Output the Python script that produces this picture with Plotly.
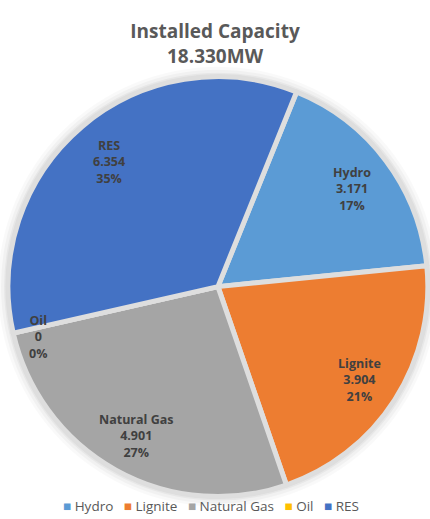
import math
import plotly.graph_objects as go

labels = ["Hydro", "Lignite", "Natural Gas", "Oil", "RES"]
values = [3.171, 3.904, 4.901, 0.0, 6.354]
colors = ["#5B9BD5", "#ED7D31", "#A5A5A5", "#FFC000", "#4472C4"]
title_lines = ["Installed Capacity", "18.330MW"]

W, H = 430, 519
ROT = 22
dom_x = [0.0186, 0.995]
dom_y = [0.0405, 0.855]

total = sum(values)
value_text = [f"{v:.3f}" if v else "0" for v in values]
pct_text = [f"{round(100 * v / total)}%" for v in values]

fig = go.Figure(go.Pie(
    labels=labels,
    values=values,
    sort=False,
    direction="clockwise",
    rotation=ROT,
    marker=dict(colors=colors, line=dict(color="#dedede", width=5)),
    textinfo="none",
    hoverinfo="label+value+percent",
    domain=dict(x=dom_x, y=dom_y),
    showlegend=False,
))

# pie geometry in pixels (paper y measured from bottom)
cx = (dom_x[0] + dom_x[1]) / 2 * W
cy = (dom_y[0] + dom_y[1]) / 2 * H
R = min((dom_x[1] - dom_x[0]) * W, (dom_y[1] - dom_y[0]) * H) / 2

# soft shadow glow behind the pie
for k, a in [(10, 0.025), (7, 0.03), (4, 0.04), (2, 0.05)]:
    fig.add_shape(
        type="circle", xref="paper", yref="paper", layer="below",
        x0=(cx - R - k) / W, x1=(cx + R + k) / W,
        y0=(cy - R - k) / H, y1=(cy + R + k) / H,
        line=dict(width=0), fillcolor=f"rgba(0,0,0,{a})",
    )

# data labels placed along each slice's mid angle (best-fit style)
cum = 0.0
for lab, v, vt, pt in zip(labels, values, value_text, pct_text):
    mid = cum + v / 2
    ang = math.radians(ROT + 360 * mid / total)
    r = (0.88 if v == 0 else 0.80) * R
    px = cx + r * math.sin(ang)
    py = cy + r * math.cos(ang)
    fig.add_annotation(
        x=px / W, y=py / H, xref="paper", yref="paper",
        xanchor="center", yanchor="middle",
        yshift=-9 if v == 0 else -3,
        text=f"<b>{lab}<br>{vt}<br>{pt}</b>", showarrow=False,
        font=dict(family="Open Sans", size=12.5, color="#404040"),
    )
    cum += v

legend_text = "&nbsp;&nbsp;&nbsp;".join(
    f"<span style='color:{c}'>■</span>&nbsp;{l}" for l, c in zip(labels, colors)
)
fig.add_annotation(
    x=0.49, y=0.003, xref="paper", yref="paper", xanchor="center", yanchor="bottom",
    text=legend_text, showarrow=False,
    font=dict(family="Open Sans", size=13.5, color="#595959"),
)

fig.update_layout(
    width=W, height=H,
    margin=dict(l=0, r=0, t=0, b=0),
    paper_bgcolor="white",
    title=dict(
        text="<b>" + "<br>".join(title_lines) + "</b>",
        x=0.5, xanchor="center", y=1 - 38 / H, yanchor="middle",
        font=dict(family="Open Sans", size=19, color="#595959"),
    ),
)

fig.write_html("out.html", config={"displayModeBar": False},
               post_script="document.body.style.margin='0';")
